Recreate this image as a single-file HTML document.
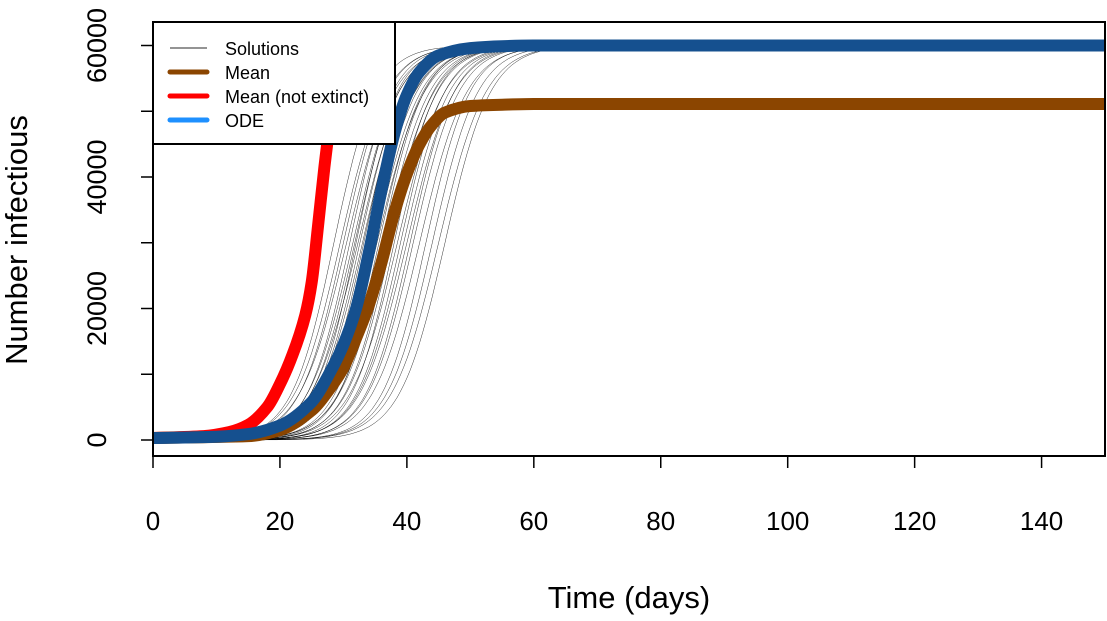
<!DOCTYPE html>
<html><head><meta charset="utf-8"><style>
body{margin:0;background:#fff}
svg text{font-family:"Liberation Sans",sans-serif;fill:#000}
</style></head><body>
<svg id="chart" width="1107" height="616">
<g id="sol"></g>
<g id="means"></g>
<rect x="153" y="22" width="952" height="434" fill="none" stroke="#000" stroke-width="2"/>
<g id="axes"></g>
<text x="629" y="608" font-size="31" text-anchor="middle">Time (days)</text>
<text transform="translate(27,240) rotate(-90)" font-size="31" text-anchor="middle">Number infectious</text>
<g>
<rect x="153" y="22" width="242" height="122" fill="#fff" stroke="#000" stroke-width="2"/>
<line x1="170" y1="48" x2="207" y2="48" stroke="#555" stroke-width="1.2"/>
<line x1="170" y1="72" x2="207" y2="72" stroke="#8B4500" stroke-width="5" stroke-linecap="round"/>
<line x1="170" y1="96" x2="207" y2="96" stroke="#FF0000" stroke-width="5" stroke-linecap="round"/>
<line x1="170" y1="120" x2="207" y2="120" stroke="#1E90FF" stroke-width="5" stroke-linecap="round"/>
<text x="225" y="55" font-size="18">Solutions</text>
<text x="225" y="79" font-size="18">Mean</text>
<text x="225" y="103" font-size="18">Mean (not extinct)</text>
<text x="225" y="127" font-size="18">ODE</text>
</g>
</svg>
<script>
const xTicks=[0,20,40,60,80,100,120,140];
const yTicks=[0,10000,20000,30000,40000,50000,60000];
const yLabels=[0,20000,40000,60000];
const odeT=[0,10,15,20,25,28,30,32,34,36,38,40,42,45,50,55,60,150];
const odeV=[300,500,900,2200,5800,10500,14500,20000,28500,38000,46500,52500,56000,58500,59600,59900,60000,60000];
const meanT=[0,15,20,25,28,30,32,34,36,38,40,42,44,46,50,55,60,150];
const meanV=[300,600,1500,4500,8000,11000,15500,20500,27000,34500,40500,45000,48000,49800,50800,51000,51100,51100];
const redT=[0,8,12,15,18,20,22,24,25,26,27,28,29];
const redV=[300,600,1200,2300,5000,8500,13000,19000,24000,32500,41500,49000,55000];
const solMid=[28.5,29.5,30,30.5,31,31.5,31.8,32,32.3,32.6,33,33.2,33.5,33.8,34,34.3,34.6,35,35.3,35.6,36,36.4,36.8,37.2,37.6,38,38.5,39,39.5,40,40.5,41,42,43,44,45,46];
const solK=[0.30,0.28,0.29,0.27,0.30,0.28,0.29,0.31,0.27,0.29,0.28,0.30,0.29,0.27,0.28,0.30,0.29,0.28,0.27,0.29,0.30,0.28,0.27,0.29,0.28,0.30,0.27,0.29,0.28,0.27,0.29,0.28,0.27,0.29,0.28,0.27,0.28];
const solPlateau=60000;
const X=t=>153+t*6.347, Y=v=>440-v*0.006575;
const NS='http://www.w3.org/2000/svg';
function mk(tag,attrs,parent){const e=document.createElementNS(NS,tag);for(const k in attrs)e.setAttribute(k,attrs[k]);parent.appendChild(e);return e;}
function smoothPath(xs,ys){const n=xs.length;const d=[],m=[];
for(let i=0;i<n-1;i++)d.push((ys[i+1]-ys[i])/(xs[i+1]-xs[i]));
m[0]=d[0];m[n-1]=d[n-2];
for(let i=1;i<n-1;i++){m[i]=(d[i-1]*d[i]<=0)?0:2/(1/d[i-1]+1/d[i]);}
let s='M'+xs[0].toFixed(1)+','+ys[0].toFixed(1);
for(let i=0;i<n-1;i++){const h=(xs[i+1]-xs[i])/3;
s+=' C'+(xs[i]+h).toFixed(1)+','+(ys[i]+m[i]*h).toFixed(1)+' '+(xs[i+1]-h).toFixed(1)+','+(ys[i+1]-m[i+1]*h).toFixed(1)+' '+xs[i+1].toFixed(1)+','+ys[i+1].toFixed(1);}
return s;}
const sol=document.getElementById('sol');
solMid.forEach((m,i)=>{let pts=[];for(let t=0;t<=150;t+=0.5){pts.push(X(t).toFixed(1)+','+Y(solPlateau/(1+Math.exp(-solK[i]*(t-m)))).toFixed(1));}
const p=mk('polyline',{points:pts.join(' '),fill:'none',stroke:'#000','stroke-width':0.5,'stroke-opacity':0.8},sol);

});
const means=document.getElementById('means');
function series(T,V,color,name){
const p=mk('path',{d:smoothPath(T.map(X),V.map(Y)),fill:'none',stroke:color,'stroke-width':12,'stroke-linejoin':'round'},means);

}
series(redT,redV,'#FF0000','mean-not-extinct-line');
series(meanT,meanV,'#8B4500','mean-line');
series(odeT,odeV,'#15508F','ode-line');
const ax=document.getElementById('axes');
xTicks.forEach(t=>{mk('line',{x1:X(t),y1:456,x2:X(t),y2:468,stroke:'#000','stroke-width':1.5},ax);
const tx=mk('text',{x:X(t),y:530,'font-size':26,'text-anchor':'middle'},ax);tx.textContent=t;

});
yTicks.forEach(v=>{mk('line',{x1:141,y1:Y(v),x2:153,y2:Y(v),stroke:'#000','stroke-width':1.5},ax);});
yLabels.forEach(v=>{const tx=mk('text',{transform:`translate(106,${Y(v)}) rotate(-90)`,'font-size':27,'text-anchor':'middle'},ax);tx.textContent=v;

});
</script>
</body></html>
